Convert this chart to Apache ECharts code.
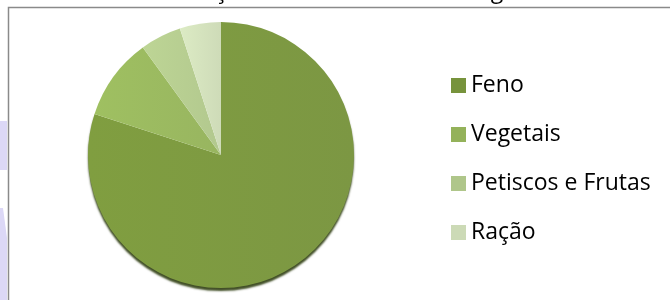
<!DOCTYPE html>
<html>
<head>
<meta charset="utf-8">
<script src="https://cdn.jsdelivr.net/npm/echarts@6/dist/echarts.min.js"></script>
<style>
  html, body { margin: 0; padding: 0; background: #fff; }
  #chart { width: 670px; height: 300px; }
</style>
</head>
<body>
<div id="chart"></div>
<script>
// dados
var categorias = ['Feno', 'Vegetais', 'Petiscos e Frutas', 'Ração']
var valores = [80, 10, 5, 5]
var cores = ['#77933c', '#94b25a', '#afc68a', '#ccdab6']
var titulo = 'Alimentação Diária Ideal de um Degu'

var chart = echarts.init(document.getElementById('chart'))

// gradiente leve, como no Excel (mais claro à esquerda)
function grad(c) {
  return new echarts.graphic.LinearGradient(0, 0, 1, 0, [
    { offset: 0, color: echarts.color.lift(c, -0.08) },
    { offset: 1, color: echarts.color.lift(c, 0.04) }
  ])
}

var dados = categorias.map(function (nome, i) {
  var it = { color: grad(cores[i]) }
  if (i === 0) {
    // só a fatia grande tem a sombra de baixo
    it.shadowColor = 'rgba(45, 60, 15, 0.9)'
    it.shadowBlur = 2
    it.shadowOffsetY = 3
  }
  return { name: nome, value: valores[i], itemStyle: it }
})

chart.setOption({
  animation: false,
  title: {
    text: titulo,
    left: 114,
    top: -25,
    textStyle: { fontFamily: 'Open Sans', fontSize: 23.1, fontWeight: 'normal', color: '#000' }
  },
  legend: {
    orient: 'vertical',
    left: 446,
    top: 69,
    itemWidth: 15,
    itemHeight: 15,
    itemGap: 26,
    icon: 'rect',
    textStyle: { fontFamily: 'Open Sans', fontSize: 23, lineHeight: 21, color: '#000' },
    data: categorias.map(function (n, i) {
      return { name: n, itemStyle: { color: cores[i] } }
    })
  },
  graphic: [
    { type: 'rect', shape: { x: 0, y: 121, width: 7, height: 49 }, style: { fill: '#dcd8f6' } },
    { type: 'polygon', shape: { points: [[0, 208], [3, 208], [7, 238], [7, 300], [0, 300]] }, style: { fill: '#dcd8f6' } },
    {
      type: 'polyline',
      shape: { points: [[8.5, 300], [8.5, 7.5], [670, 7.5]] },
      style: { stroke: '#8a8a8a', lineWidth: 1.5, fill: null }
    }
  ],
  series: [
    {
      type: 'pie',
      center: [221, 155],
      radius: 133,
      startAngle: 90,
      clockwise: true,
      label: { show: false },
      labelLine: { show: false },
      emphasis: { disabled: true },
      itemStyle: { borderWidth: 0 },
      data: dados
    }
  ]
})
</script>
</body>
</html>
